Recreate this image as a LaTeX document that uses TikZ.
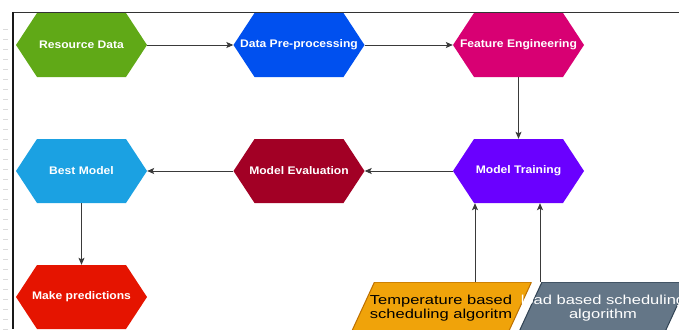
\documentclass[tikz,border=0pt]{standalone}
\usepackage{fontspec}
\setmainfont{Liberation Sans}
\newfontfamily\hexfont[FakeStretch=1.1]{Liberation Sans}
\newfontfamily\parfont[FakeStretch=1.27]{Liberation Sans}
\usetikzlibrary{arrows.meta}

% fill colours of the process steps
\definecolor{cGreen}{HTML}{60A917}
\definecolor{cBlue}{HTML}{0050EF}
\definecolor{cPink}{HTML}{D80073}
\definecolor{cViolet}{HTML}{6A00FF}
\definecolor{cCrimson}{HTML}{A20025}
\definecolor{cCyan}{HTML}{1BA1E2}
\definecolor{cRed}{HTML}{E51400}
\definecolor{cOrange}{HTML}{F0A30A}
\definecolor{cOrangeLine}{HTML}{BD7000}
\definecolor{cSlate}{HTML}{647687}
\definecolor{cSlateLine}{HTML}{314354}
\definecolor{cLine}{HTML}{3A3A3A}

\tikzset{
  % hexagonal process step, filled with the colour given as argument
  hexbox/.style={
    minimum width=131pt, minimum height=64pt, inner sep=0pt,
    text=white, font=\hexfont\bfseries\fontsize{11}{13}\selectfont,
    path picture={
      \fill[#1] (path picture bounding box.west)
        -- ([xshift=21pt]path picture bounding box.north west)
        -- ([xshift=-21pt]path picture bounding box.north east)
        -- (path picture bounding box.east)
        -- ([xshift=-21pt]path picture bounding box.south east)
        -- ([xshift=21pt]path picture bounding box.south west) -- cycle;}
  },
  % slanted input box: fill colour / outline colour
  inputbox/.style 2 args={
    minimum height=52pt, inner sep=0pt, align=center,
    font=\parfont\fontsize{13}{14}\selectfont,
    path picture={
      \filldraw[fill=#1, draw=#2, line width=1pt]
        (path picture bounding box.south west)
        -- ([xshift=24pt]path picture bounding box.north west)
        -- (path picture bounding box.north east)
        -- ([xshift=-24pt]path picture bounding box.south east) -- cycle;}
  },
  flow/.style={draw=cLine, line width=0.9pt,
    -{Stealth[length=7pt, width=6pt, inset=1.5pt]}},
  tick/.style={draw=black!14, line width=0.6pt}
}

\begin{document}
\begin{tikzpicture}[x=1pt, y=-1pt]
  \useasboundingbox (0,0) rectangle (679,329);
  \clip (0,0) rectangle (679,329);
  \fill[white] (0,0) rectangle (679,329);

  % ruler ticks along the left margin
  \foreach \t in {29,39,...,329} {
    \draw[tick] (3,\t) -- (8,\t);
  }

  % process steps
  \node[hexbox=cGreen]   (res)   at (81.5,45)  {Resource Data};
  \node[hexbox=cBlue]    (prep)  at (299,45)   {Data Pre-processing};
  \node[hexbox=cPink]    (feat)  at (518.5,45) {Feature Engineering};
  \node[hexbox=cViolet]  (train) at (518.5,171){Model Training};
  \node[hexbox=cCrimson] (eval)  at (299,171)  {Model Evaluation};
  \node[hexbox=cCyan]    (best)  at (81.5,171) {Best Model};
  \node[hexbox=cRed]     (pred)  at (81.5,297) {Make predictions};

  % scheduling inputs
  \node[inputbox={cOrange}{cOrangeLine}, minimum width=181pt, text=black]
    (temp) at (441,308) {Temperature based\\scheduling algoritm};
  \node[inputbox={cSlate}{cSlateLine}, minimum width=170pt, text=white]
    (load) at (603,308) {load based scheduling\\algorithm};

  % flow between steps
  \draw[flow] (res) -- (prep);
  \draw[flow] (prep) -- (feat);
  \draw[flow] (feat) -- (train);
  \draw[flow] (train) -- (eval);
  \draw[flow] (eval) -- (best);
  \draw[flow] (best) -- (pred);

  \coordinate (tempx) at (475,0);
  \coordinate (loadx) at (540,0);
  \draw[flow] (temp.north -| tempx) -- (train.south -| tempx);
  \draw[flow] (load.north -| loadx) -- (train.south -| loadx);

  % frame lines of the canvas
  \draw[draw=black!80, line width=1.4pt] (12,12.5) -- (679,12.5);
  \draw[draw=black!90, line width=2pt] (12.5,12) -- (12.5,329);
\end{tikzpicture}
\end{document}
